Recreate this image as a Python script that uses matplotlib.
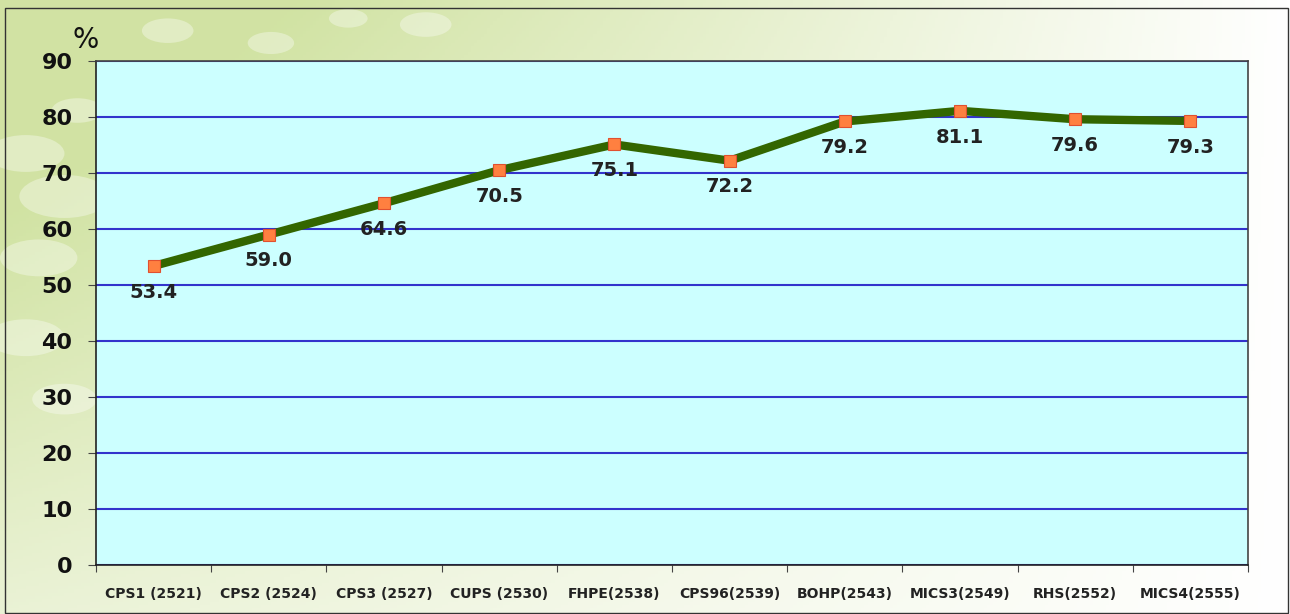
import numpy as np
import matplotlib
matplotlib.use("Agg")
import matplotlib.pyplot as plt
from matplotlib.patches import Rectangle, Circle

categories = ["CPS1 (2521)", "CPS2 (2524)", "CPS3 (2527)", "CUPS (2530)", "FHPE(2538)",
              "CPS96(2539)", "BOHP(2543)", "MICS3(2549)", "RHS(2552)", "MICS4(2555)"]
values = [53.4, 59.0, 64.6, 70.5, 75.1, 72.2, 79.2, 81.1, 79.6, 79.3]
yticks = [0, 10, 20, 30, 40, 50, 60, 70, 80, 90]

W, H = 1290, 614
fig = plt.figure(figsize=(W / 100, H / 100), dpi=100)

# decorative background
bg = fig.add_axes([0, 0, 1, 1], zorder=-10)
bg.set_axis_off()
xx = np.linspace(0, 1, 400)[None, :]
yy = np.linspace(0, 1, 200)[:, None]
t = np.clip(1.0 - (1.0 - xx) * 1.3 * (0.35 + 0.65 * yy), 0, 1)
green = np.array([0.82, 0.89, 0.64])
white = np.array([1.0, 1.0, 1.0])
img = green[None, None, :] * (1 - t[..., None]) + white[None, None, :] * t[..., None]
bg.imshow(img, extent=[0, 1, 0, 1], origin="lower", aspect="auto")
bg.set_xlim(0, 1)
bg.set_ylim(0, 1)
bubbles = [(0.02, 0.75, 0.03), (0.05, 0.68, 0.035), (0.03, 0.58, 0.03), (0.06, 0.82, 0.02),
           (0.13, 0.95, 0.02), (0.21, 0.93, 0.018), (0.27, 0.97, 0.015), (0.33, 0.96, 0.02),
           (0.02, 0.45, 0.03), (0.05, 0.35, 0.025), (0.99, 0.5, 0.03), (0.98, 0.42, 0.025)]
for bx, by, br in bubbles:
    bg.add_patch(Circle((bx, by), br, transform=bg.transAxes, facecolor="white",
                        alpha=0.35, edgecolor="none"))
bg.add_patch(Rectangle((5 / W, 1 - 613 / H), 1283 / W, 605 / H, transform=bg.transAxes,
                       fill=False, edgecolor="#333333", linewidth=1.0))

ax = fig.add_axes([96 / W, 1 - 565 / H, (1248 - 96) / W, (565 - 61) / H])
ax.set_facecolor("#CCFFFF")
x = np.arange(len(values))
ax.set_xlim(-0.5, len(values) - 0.5)
ax.set_ylim(0, 90)
ax.set_yticks(yticks)
ax.set_yticklabels([str(v) for v in yticks], fontsize=16, fontweight="heavy", color="#111111")
ax.yaxis.grid(True, color="#3333CC", linewidth=1.5)
ax.set_axisbelow(True)
ax.set_xticks(np.arange(len(values) + 1) - 0.5)
ax.set_xticklabels([])
ax.set_xticks(x, minor=True)
ax.set_xticklabels(categories, minor=True, fontsize=10, fontweight="bold", color="#222222")
ax.tick_params(axis="x", which="minor", length=0, pad=16)
ax.tick_params(axis="x", which="major", length=5, color="#444444")
ax.tick_params(axis="y", length=6, color="#444444", pad=11)
for s in ax.spines.values():
    s.set_color("#444444")
    s.set_linewidth(1.2)
ax.spines["left"].set_color("#222222")
ax.spines["bottom"].set_color("#222222")

ax.plot(x, values, color="#336600", linewidth=6, solid_capstyle="round", zorder=3)
ax.plot(x, values, linestyle="none", marker="s", markersize=9,
        markerfacecolor="#FF8040", markeredgecolor="#E05030", markeredgewidth=0.8, zorder=4)
for xi, v in zip(x, values):
    ax.annotate(f"{v:.1f}", (xi, v), xytext=(0, -12), textcoords="offset points",
                ha="center", va="top", fontsize=14, fontweight="bold", color="#222222")

fig.text(86 / W, 1 - 40 / H, "%", fontsize=20, ha="center", va="center", color="#111111")

fig.savefig("out.png", dpi=100)
